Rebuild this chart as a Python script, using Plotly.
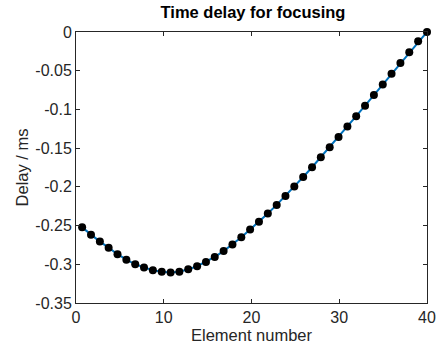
import plotly.graph_objects as go

# Element positions and delays (ms)
element = [0.70, 1.71, 2.72, 3.72, 4.73, 5.74, 6.75, 7.75, 8.76, 9.77,
           10.78, 11.78, 12.79, 13.80, 14.81, 15.81, 16.82, 17.83, 18.84, 19.84,
           20.85, 21.86, 22.87, 23.87, 24.88, 25.89, 26.90, 27.90, 28.91, 29.92,
           30.93, 31.93, 32.94, 33.95, 34.96, 35.96, 36.97, 37.98, 38.99, 40.00]
delay = [-0.2523, -0.2617, -0.2707, -0.2785, -0.2870, -0.2940, -0.3000, -0.3040, -0.3076, -0.3095,
         -0.3105, -0.3095, -0.3065, -0.3025, -0.2970, -0.2905, -0.2830, -0.2745, -0.2652, -0.2550,
         -0.2450, -0.2345, -0.2233, -0.2117, -0.1997, -0.1873, -0.1747, -0.1618, -0.1488, -0.1356,
         -0.1222, -0.1087, -0.0951, -0.0815, -0.0677, -0.0540, -0.0401, -0.0262, -0.0121, 0.0]

x_ticks = [0, 10, 20, 30, 40]
y_ticks = [0, -0.05, -0.1, -0.15, -0.2, -0.25, -0.3, -0.35]
y_tick_text = ["0", "-0.05", "-0.1", "-0.15", "-0.2", "-0.25", "-0.3", "-0.35"]

FONT = "Liberation Sans, Arial, sans-serif"
AX = "#262626"

fig = go.Figure()
fig.add_trace(go.Scatter(x=element, y=delay, mode="lines", cliponaxis=False,
                         line=dict(color="#0072BD", width=2), showlegend=False))
fig.add_trace(go.Scatter(x=element, y=delay, mode="markers", cliponaxis=False,
                         marker=dict(color="black", size=8), showlegend=False))

axis_common = dict(showgrid=False, zeroline=False, showline=True, linecolor=AX, linewidth=1,
                   mirror="ticks", ticks="inside", ticklen=4, tickcolor=AX,
                   tickfont=dict(family=FONT, size=16, color=AX))

fig.update_layout(
    width=448, height=354,
    margin=dict(l=76, r=18, t=32, b=50),
    paper_bgcolor="white", plot_bgcolor="white",
    title=dict(text="<b>Time delay for focusing</b>", x=253/448, xref="container", xanchor="center",
               y=1 - 12/354, yref="container", yanchor="middle",
               font=dict(family=FONT, size=16.5, color="black")),
    xaxis=dict(range=[0, 40], tickvals=x_ticks, **axis_common,
               title=dict(text="Element number", font=dict(family=FONT, size=16.5, color=AX), standoff=4)),
    yaxis=dict(range=[-0.35, 0], tickvals=y_ticks, ticktext=y_tick_text, **axis_common,
               title=dict(text="Delay / ms", font=dict(family=FONT, size=16.5, color=AX), standoff=2)),
)

fig.write_html("out.html")
